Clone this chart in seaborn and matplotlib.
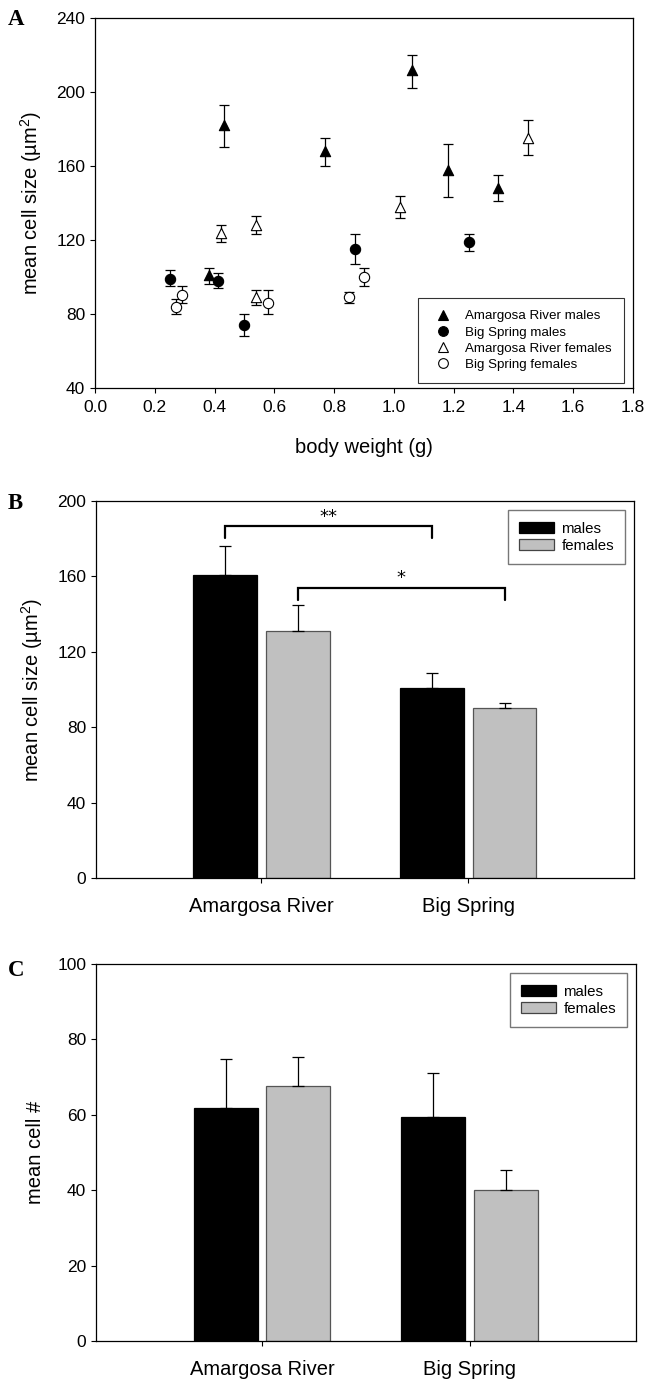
import matplotlib
matplotlib.use("Agg")
import matplotlib.pyplot as plt
import seaborn as sns
import pandas as pd
import numpy as np
from matplotlib.lines import Line2D
from matplotlib.patches import Patch

# panel A: mean cell size vs body weight (value, upper and lower error bar ends)
arm_x = [0.38, 0.43, 0.77, 1.06, 1.18, 1.35]
arm_y = [101, 182, 168, 212, 158, 148]
arm_hi = [105, 193, 175, 220, 172, 155]
arm_lo = [96, 170, 160, 202, 143, 141]

bsm_x = [0.25, 0.41, 0.50, 0.87, 1.25]
bsm_y = [99, 98, 74, 115, 119]
bsm_hi = [104, 102, 80, 123, 123]
bsm_lo = [95, 94, 68, 107, 114]

arf_x = [0.42, 0.54, 0.54, 1.02, 1.45]
arf_y = [124, 128, 89, 138, 175]
arf_hi = [128, 133, 93, 144, 185]
arf_lo = [119, 123, 85, 132, 166]

bsf_x = [0.27, 0.29, 0.58, 0.85, 0.90]
bsf_y = [84, 90, 86, 89, 100]
bsf_hi = [88, 95, 93, 92, 105]
bsf_lo = [80, 86, 80, 86, 95]

# panels B and C
sites = ["Amargosa River", "Big Spring"]
sexes = ["males", "females"]
size_males = [161, 101]
size_males_se = [15, 8]
size_females = [131, 90]
size_females_se = [14, 2.7]

count_males = [61.7, 59.4]
count_males_se = [13, 11.8]
count_females = [67.5, 40.1]
count_females_se = [7.9, 5.3]

sns.set_style("ticks")
plt.rcParams["font.family"] = ["Liberation Sans", "DejaVu Sans"]
plt.rcParams["mathtext.fontset"] = "custom"
plt.rcParams["mathtext.rm"] = "Liberation Sans"
plt.rcParams["mathtext.it"] = "Liberation Sans:italic"
for k in ("text.color", "axes.labelcolor", "xtick.color", "ytick.color", "axes.edgecolor"):
    plt.rcParams[k] = "black"
plt.rcParams["axes.linewidth"] = 0.9
plt.rcParams["xtick.major.width"] = 0.8
plt.rcParams["ytick.major.width"] = 0.8
plt.rcParams["xtick.major.size"] = 3.5
plt.rcParams["ytick.major.size"] = 3.5

fig = plt.figure(figsize=(6.45, 13.84), dpi=100)
axA = fig.add_axes([0.1473, 0.7197, 0.834, 0.2673])
axB = fig.add_axes([0.1488, 0.3656, 0.834, 0.2724])
axC = fig.add_axes([0.1488, 0.0311, 0.837, 0.2724])

LABEL_FS = 14.5
TICK_FS = 12.5

# ---- panel A
groups = [
    ("Amargosa River males", arm_x, arm_y, arm_hi, arm_lo, "^", "black"),
    ("Big Spring males", bsm_x, bsm_y, bsm_hi, bsm_lo, "o", "black"),
    ("Amargosa River females", arf_x, arf_y, arf_hi, arf_lo, "^", "white"),
    ("Big Spring females", bsf_x, bsf_y, bsf_hi, bsf_lo, "o", "white"),
]
handles = []
for name, x, y, hi, lo, mk, fc in groups:
    y = np.array(y)
    axA.errorbar(x, y, yerr=[y - np.array(lo), np.array(hi) - y], fmt="none",
                 ecolor="black", elinewidth=0.9, capsize=3.5, capthick=0.9, zorder=2)
    df = pd.DataFrame({"x": x, "y": y})
    sns.scatterplot(data=df, x="x", y="y", marker=mk, s=55, color=fc,
                    edgecolor="black", linewidth=0.8, zorder=3, ax=axA)
    handles.append(Line2D([], [], ls="", marker=mk, markersize=7,
                          markerfacecolor=fc, markeredgecolor="black", markeredgewidth=0.8))

axA.set_xlim(0, 1.8)
axA.set_ylim(40, 240)
axA.set_xticks(np.arange(0, 1.81, 0.2))
axA.set_xticklabels([f"{v:.1f}" for v in np.arange(0, 1.81, 0.2)])
axA.set_yticks(range(40, 241, 40))
axA.set_xlabel("body weight (g)", fontsize=LABEL_FS, labelpad=17)
axA.set_ylabel("mean cell size (µm$^{2}$)", fontsize=LABEL_FS, labelpad=9)
legA = axA.legend(handles, [g[0] for g in groups], loc="lower left",
                  bbox_to_anchor=(0.6006, 0.0143, 0.383, 0.236), mode="expand",
                  borderaxespad=0, fontsize=9.6, frameon=True, fancybox=False,
                  borderpad=0.9, handletextpad=0.6, labelspacing=0.28, handlelength=2.0)
legA.get_frame().set_edgecolor("black")
legA.get_frame().set_linewidth(0.8)

# ---- panels B and C
def bar_panel(ax, males, males_se, females, females_se, ylim, yticks, ylabel):
    df = pd.DataFrame({
        "site": sites * 2,
        "sex": ["males"] * 2 + ["females"] * 2,
        "value": males + females,
    })
    sns.barplot(data=df, x="site", y="value", hue="sex", hue_order=sexes,
                palette={"males": "black", "females": "#c0c0c0"},
                width=0.7, gap=0.12, errorbar=None, saturation=1,
                linewidth=0.9, legend=False, ax=ax)
    centers = {}
    for cont, sex, vals, se in zip(ax.containers, sexes,
                                   [males, females], [males_se, females_se]):
        xs = [p.get_x() + p.get_width() / 2 for p in cont]
        centers[sex] = xs
        for p in cont:
            p.set_edgecolor("black" if sex == "males" else "#555555")
        ax.errorbar(xs, vals, yerr=[np.zeros(len(se)), se], fmt="none",
                    ecolor="black", elinewidth=0.9, capsize=4.5, capthick=0.9, zorder=1)
    ax.set_xlim(-0.8, 1.8)
    ax.set_ylim(*ylim)
    ax.set_yticks(yticks)
    ax.set_xlabel("")
    ax.set_ylabel(ylabel, fontsize=LABEL_FS, labelpad=9)
    ax.tick_params(axis="x", labelsize=LABEL_FS, pad=10)
    h = [Patch(facecolor="black", edgecolor="black", linewidth=0.9),
         Patch(facecolor="#c0c0c0", edgecolor="#444444", linewidth=0.9)]
    leg = ax.legend(h, sexes, loc="upper right", bbox_to_anchor=(0.984, 0.975),
                    fontsize=10.8, frameon=True, fancybox=False, borderpad=0.75,
                    handlelength=2.33, handleheight=0.75, labelspacing=0.23,
                    handletextpad=0.5, borderaxespad=0)
    leg.get_frame().set_edgecolor("#555555")
    leg.get_frame().set_linewidth(1.0)
    for sp in ax.spines.values():
        sp.set_visible(True)
    return centers

cB = bar_panel(axB, size_males, size_males_se, size_females, size_females_se,
               (0, 200), range(0, 201, 40), "mean cell size (µm$^{2}$)")
cC = bar_panel(axC, count_males, count_males_se, count_females, count_females_se,
               (0, 100), range(0, 101, 20), "mean cell #")

# significance brackets, panel B
def bracket(ax, x0, x1, y, drop, label):
    ax.plot([x0, x0, x1, x1], [y - drop, y, y, y - drop], color="black", lw=1.6,
            solid_joinstyle="miter")
    ax.text((x0 + x1) / 2, y + 0.5, label, ha="center", va="bottom", fontsize=13,
            family="DejaVu Sans")

bracket(axB, cB["males"][0], cB["males"][1], 186.5, 6, "**")
bracket(axB, cB["females"][0], cB["females"][1], 154, 6.5, "*")

for ax in (axA, axB, axC):
    ax.tick_params(axis="y", labelsize=TICK_FS)
axA.tick_params(axis="x", labelsize=TICK_FS, pad=5)

for lab, y in (("A", 0.986), ("B", 0.636), ("C", 0.299)):
    fig.text(0.012, y, lab, fontsize=16.5, fontweight="bold", family="Liberation Serif",
             va="center", ha="left")

fig.savefig("out.png", dpi=100)
